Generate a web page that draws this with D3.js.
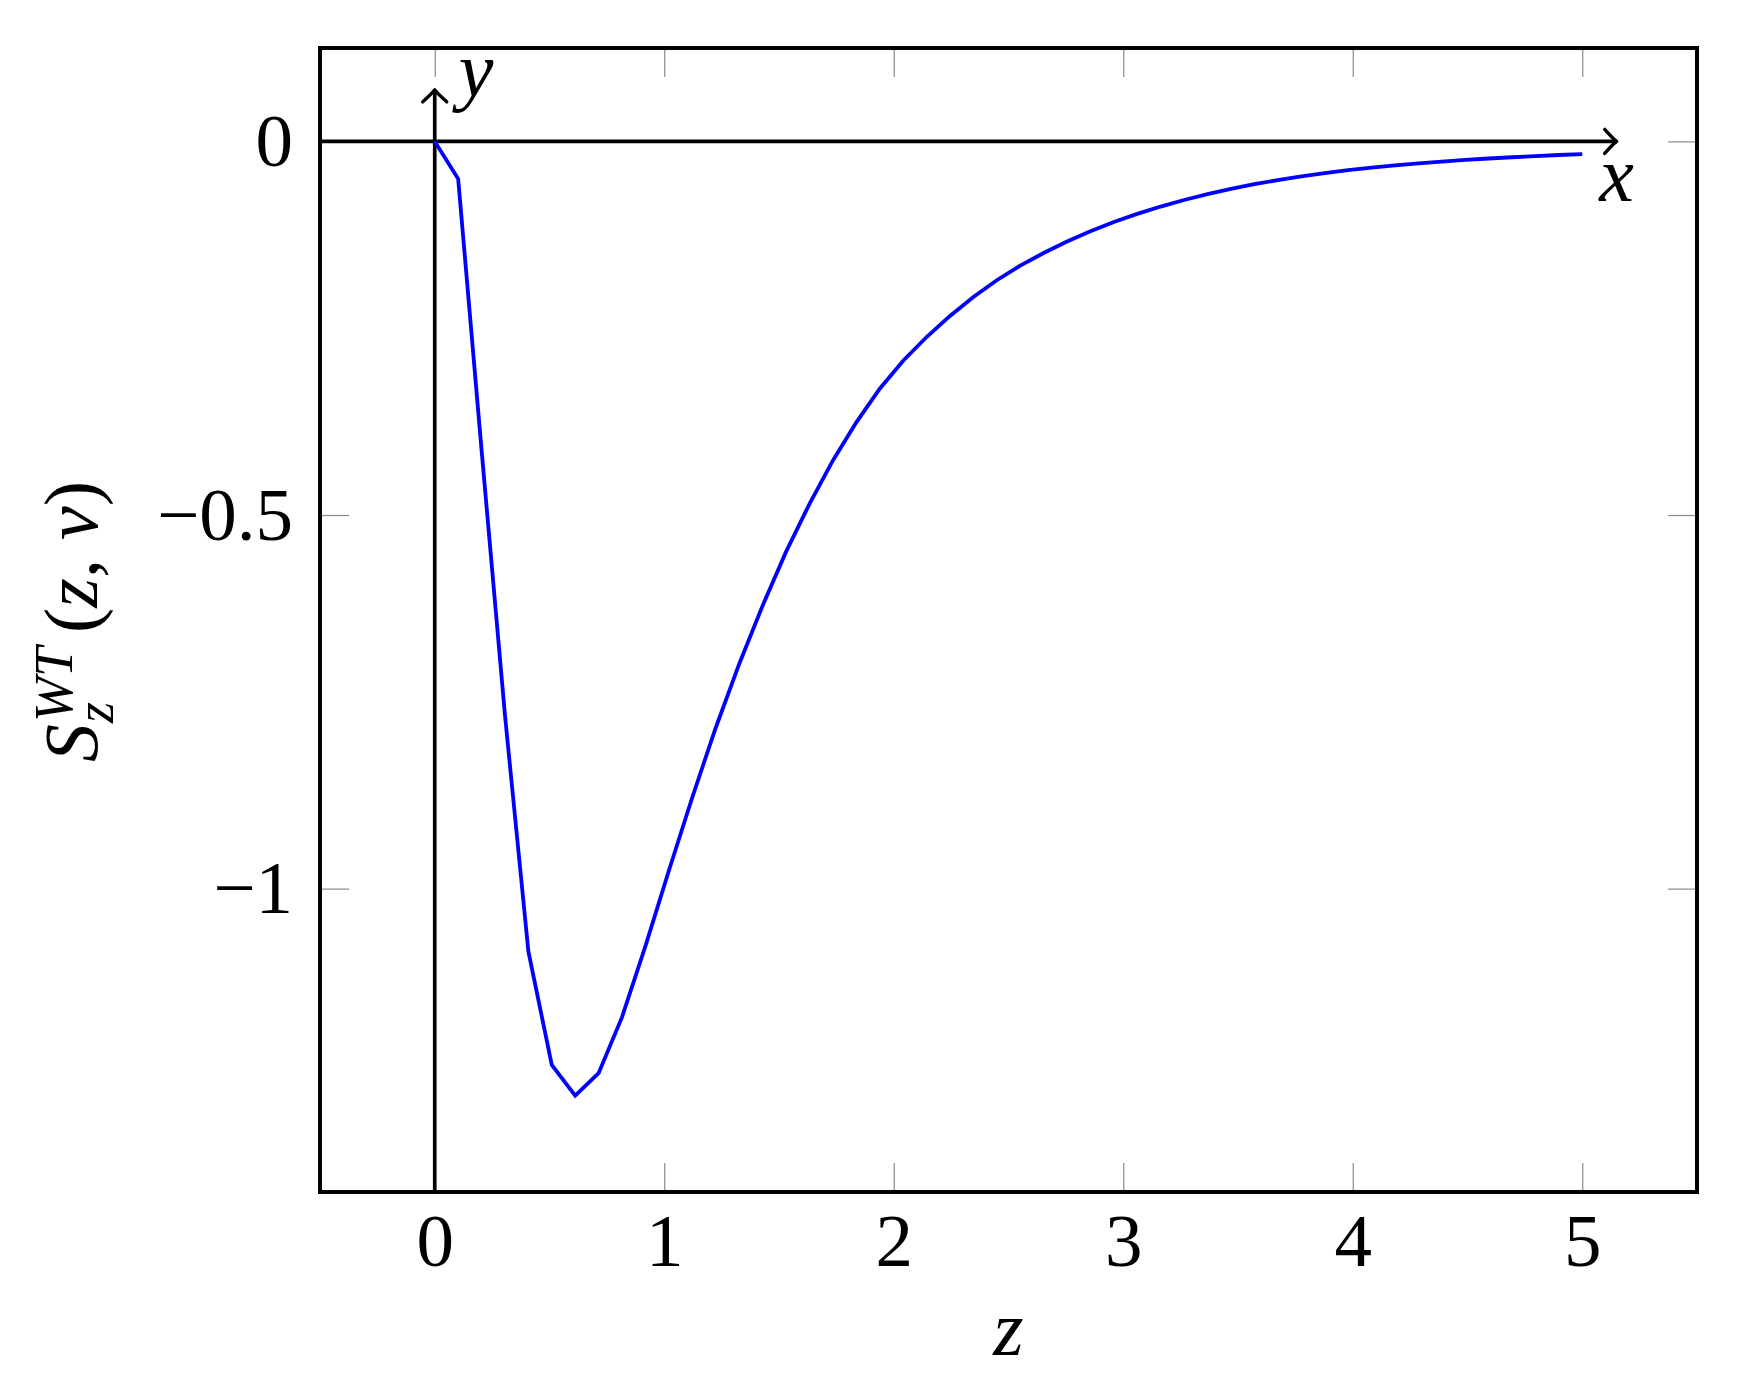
<!DOCTYPE html>
<html>
<head>
<meta charset="utf-8">
<script src="https://cdn.jsdelivr.net/npm/d3@7"></script>
<style>
  body { margin: 0; background: #fff; }
  svg text { font-family: "Liberation Serif", "DejaVu Serif", serif; fill: #000; }
</style>
</head>
<body>
<div id="chart"></div>
<script>
// sample points of the curve (50 points between 0 and 5)
var zValues = [0, 0.102, 0.204, 0.306, 0.408, 0.510, 0.612, 0.714, 0.816, 0.918,
  1.020, 1.122, 1.224, 1.327, 1.429, 1.531, 1.633, 1.735, 1.837, 1.939,
  2.041, 2.143, 2.245, 2.347, 2.449, 2.551, 2.653, 2.755, 2.857, 2.959,
  3.061, 3.163, 3.265, 3.367, 3.469, 3.571, 3.673, 3.776, 3.878, 3.980,
  4.082, 4.184, 4.286, 4.388, 4.490, 4.592, 4.694, 4.796, 4.898, 5.000];
var sValues = [0, -0.050, -0.413, -0.768, -1.084, -1.236, -1.277, -1.247, -1.172, -1.077,
  -0.976, -0.878, -0.785, -0.699, -0.621, -0.549, -0.485, -0.427, -0.376, -0.331,
  -0.2935, -0.2618, -0.2336, -0.2083, -0.1858, -0.1663, -0.1493, -0.1340, -0.1203, -0.1078,
  -0.0970, -0.0872, -0.0784, -0.0705, -0.0634, -0.0573, -0.0518, -0.0469, -0.0424, -0.0384,
  -0.0351, -0.0321, -0.0294, -0.0270, -0.0247, -0.0229, -0.0212, -0.0197, -0.0182, -0.0169];

var xTicks = [0, 1, 2, 3, 4, 5];
var xTickLabels = ["0", "1", "2", "3", "4", "5"];
var yTicks = [0, -0.5, -1];
var yTickLabels = ["0", "\u22120.5", "\u22121"];

var xDomain = [-0.5, 5.5];
var yDomain = [-1.406, 0.125];
var xArrowEnd = 5.15;   // end of the x axis arrow
var yArrowEnd = 0.069;  // end of the y axis arrow

var width = 1739, height = 1393;
var margin = {left: 320, right: 42, top: 48, bottom: 201};
var w = width - margin.left - margin.right;
var h = height - margin.top - margin.bottom;

var svg = d3.select("#chart").append("svg")
  .attr("width", width)
  .attr("height", height);

var g = svg.append("g")
  .attr("transform", "translate(" + margin.left + "," + margin.top + ")");

var x = d3.scaleLinear().domain(xDomain).range([0, w]);
var y = d3.scaleLinear().domain(yDomain).range([h, 0]);

var tickLen = 29;
var fontSize = 75;

//### ticks, inside the box on every side ###
var axBottom = g.append("g")
  .attr("transform", "translate(0," + h + ")")
  .call(d3.axisBottom(x).tickValues(xTicks).tickSize(-tickLen).tickPadding(21)
    .tickFormat(function(d, i) { return xTickLabels[i]; }));
var axTop = g.append("g")
  .call(d3.axisTop(x).tickValues(xTicks).tickSize(-tickLen).tickFormat(""));
var axLeft = g.append("g")
  .call(d3.axisLeft(y).tickValues(yTicks).tickSize(-tickLen).tickPadding(27)
    .tickFormat(function(d, i) { return yTickLabels[i]; }));
var axRight = g.append("g")
  .attr("transform", "translate(" + w + ",0)")
  .call(d3.axisRight(y).tickValues(yTicks).tickSize(-tickLen).tickFormat(""));

[axBottom, axTop, axLeft, axRight].forEach(function(a) {
  a.select(".domain").remove();
  a.selectAll(".tick line").attr("stroke", "#8a8a8a").attr("stroke-width", 1.2);
  a.selectAll(".tick text")
    .style("font-family", "Liberation Serif")
    .style("font-size", fontSize + "px")
    .attr("fill", "#000");
});

//### axis lines through the origin, with arrows ###
g.append("line")
  .attr("x1", 0).attr("x2", x(xArrowEnd))
  .attr("y1", y(0)).attr("y2", y(0))
  .attr("stroke", "#000").attr("stroke-width", 3.7);
g.append("line")
  .attr("x1", x(0)).attr("x2", x(0))
  .attr("y1", h).attr("y2", y(yArrowEnd))
  .attr("stroke", "#000").attr("stroke-width", 3.7);

var ax = x(xArrowEnd), ay = y(0);
g.append("path")
  .attr("d", "M" + (ax - 12) + "," + (ay - 12) + " Q" + (ax - 4) + "," + (ay - 3) + " " + ax + "," + ay +
             " Q" + (ax - 4) + "," + (ay + 3) + " " + (ax - 12) + "," + (ay + 12))
  .attr("fill", "none").attr("stroke", "#000").attr("stroke-width", 3.4)
  .attr("stroke-linecap", "round").attr("stroke-linejoin", "round");
var bx = x(0), by = y(yArrowEnd);
g.append("path")
  .attr("d", "M" + (bx - 12) + "," + (by + 12) + " Q" + (bx - 3) + "," + (by + 4) + " " + bx + "," + by +
             " Q" + (bx + 3) + "," + (by + 4) + " " + (bx + 12) + "," + (by + 12))
  .attr("fill", "none").attr("stroke", "#000").attr("stroke-width", 3.4)
  .attr("stroke-linecap", "round").attr("stroke-linejoin", "round");

g.append("text")
  .attr("x", ax).attr("y", ay + 60)
  .attr("text-anchor", "middle")
  .style("font-size", "78px").style("font-style", "italic")
  .text("x");
g.append("text")
  .attr("x", bx + 24).attr("y", by + 6)
  .style("font-size", "78px").style("font-style", "italic")
  .text("y");

//### the curve ###
var points = zValues.map(function(z, i) { return [z, sValues[i]]; });
var line = d3.line()
  .x(function(d) { return x(d[0]); })
  .y(function(d) { return y(d[1]); });
g.append("path")
  .datum(points)
  .attr("d", line)
  .attr("fill", "none")
  .attr("stroke", "#0000ff")
  .attr("stroke-width", 3.8);

//### box ###
g.append("rect")
  .attr("x", 0).attr("y", 0).attr("width", w).attr("height", h)
  .attr("fill", "none").attr("stroke", "#000").attr("stroke-width", 4);

//### axis labels ###
svg.append("text")
  .attr("x", margin.left + w / 2).attr("y", 1355)
  .attr("text-anchor", "middle")
  .style("font-size", "78px").style("font-style", "italic")
  .text("z");

// y label: S_z^{WT}(z, v), rotated
var yl = svg.append("g").attr("transform", "translate(97,622) rotate(-90)");
var start = -140;
var sText = yl.append("text").attr("x", start).attr("y", 0)
  .style("font-size", "76px").style("font-style", "italic").text("S");
var sw = sText.node().getComputedTextLength();
var sup = yl.append("text").attr("x", start + sw + 2).attr("y", -25)
  .style("font-size", "54px").style("font-style", "italic").text("WT");
var sub = yl.append("text").attr("x", start + sw + 1).attr("y", 16)
  .style("font-size", "54px").style("font-style", "italic").text("z");
var after = start + sw + 2 + Math.max(sup.node().getComputedTextLength(), sub.node().getComputedTextLength()) + 14;
var paren = yl.append("text").attr("x", after).attr("y", 0).style("font-size", "76px");
paren.append("tspan").text("(");
paren.append("tspan").style("font-style", "italic").text("z");
paren.append("tspan").text(", ");
paren.append("tspan").style("font-style", "italic").text("v");
paren.append("tspan").text(")");
</script>
</body>
</html>
